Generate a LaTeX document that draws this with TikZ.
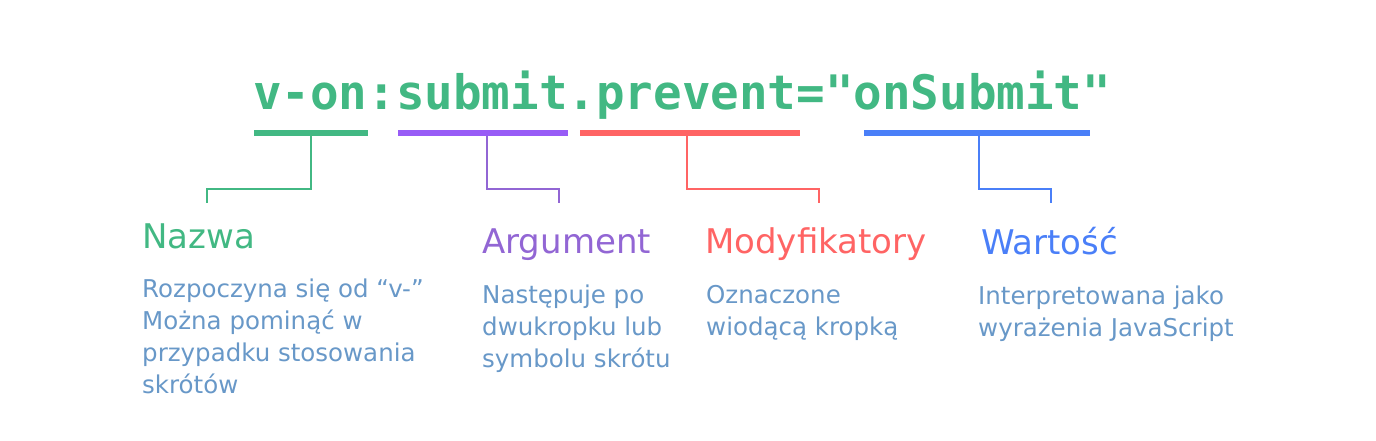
\documentclass[tikz,border=0pt]{standalone}
\usepackage{fontspec}
\setmainfont{DejaVu Sans}
\newfontfamily\codefont{DejaVu Sans Mono}
\usetikzlibrary{positioning}
\definecolor{vuegreen}{RGB}{66,184,131}
\definecolor{argpurple}{RGB}{152,92,246}
\definecolor{argtext}{RGB}{146,102,212}
\definecolor{modred}{RGB}{255,100,100}
\definecolor{valblue}{RGB}{74,127,248}
\definecolor{desctext}{RGB}{104,152,200}

\begin{document}
\begin{tikzpicture}[x=1pt,y=-1pt,
		bar/.style={fill=#1, inner sep=0pt, minimum height=6pt, anchor=west},
		conn/.style={draw=#1, line width=2pt},
		title/.style={anchor=base west, inner sep=0pt, text=#1, font=\fontsize{34}{40}\selectfont},
		desc/.style={anchor=base west, inner sep=0pt, align=left, text=desctext, font=\fontsize{24.5}{32}\selectfont}]
			\useasboundingbox (0,0) rectangle (1376,440);
			\node[anchor=base west, inner sep=0pt, text=vuegreen, font=\codefont\bfseries\fontsize{47.5}{50}\selectfont] (code) at (253,109) {v-on:submit.prevent="onSubmit"};
			\node[bar=vuegreen, minimum width=114pt] (name-bar) at (254,133) {};
			\node[bar=argpurple, minimum width=170pt] (arg-bar) at (398,133) {};
			\node[bar=modred, minimum width=220pt] (mod-bar) at (580,133) {};
			\node[bar=valblue, minimum width=226pt] (val-bar) at (864,133) {};
			\coordinate (name-end) at (207,203);
			\coordinate (arg-end) at (559,203);
			\coordinate (mod-end) at (819,203);
			\coordinate (val-end) at (1051,203);
			\draw[conn=vuegreen] (name-bar.south) -- ++(0,53) -| (name-end);
			\draw[conn=argtext] ([xshift=4pt]arg-bar.south) -- ++(0,53) -| (arg-end);
			\draw[conn=modred] ([xshift=-3pt]mod-bar.south) -- ++(0,53) -| (mod-end);
			\draw[conn=valblue] ([xshift=2pt]val-bar.south) -- ++(0,53) -| (val-end);
			\node[title=vuegreen] (name-title) at (142,248) {Nazwa};
			\node[title=argtext] (arg-title) at (482,253) {Argument};
			\node[title=modred] (mod-title) at (705,253) {Modyfikatory};
			\node[title=valblue] (val-title) at (981,254) {Wartość};
			% base anchor sits on the last line
			\node[desc] (name-desc) at (142,393) {Rozpoczyna się od “v-”\\Można pominąć w\\przypadku stosowania\\skrótów};
			\node[desc] (arg-desc) at (482,367) {Następuje po\\dwukropku lub\\symbolu skrótu};
			\node[desc] (mod-desc) at (706,335) {Oznaczone\\wiodącą kropką};
			\node[desc] (val-desc) at (978,336) {Interpretowana jako\\wyrażenia JavaScript};
		\end{tikzpicture}
\end{document}
